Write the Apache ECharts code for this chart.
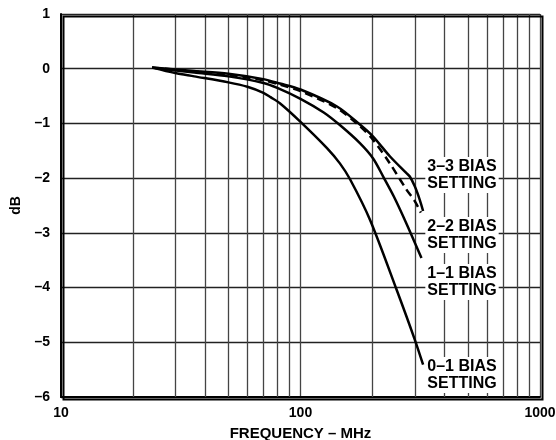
<!DOCTYPE html>
<html><head><meta charset="utf-8">
<script src="https://cdn.jsdelivr.net/npm/echarts@6/dist/echarts.min.js"></script>
<style>html,body{margin:0;padding:0;background:#fff}#c{width:556px;height:440px}</style>
</head><body><div id="c"></div>
<script>
// Data (frequency MHz, dB)
const curve01 = [[24,0.02],[30,-0.08],[36,-0.14],[50,-0.25],[60,-0.33],[70,-0.44],[75,-0.52],[82,-0.63],[100,-0.97],[129,-1.45],[146,-1.73],[161,-2.02],[195,-2.76],[252,-4.04],[300,-4.95],[325,-5.41]];
const curve11 = [[24,0.02],[36,-0.07],[50,-0.14],[70,-0.26],[80,-0.35],[100,-0.55],[125,-0.80],[146,-1.03],[177,-1.36],[201,-1.64],[222,-1.98],[245,-2.33],[275,-2.80],[320,-3.46]];
const curve22 = [[24,0.02],[36,-0.05],[50,-0.11],[70,-0.21],[82,-0.29],[100,-0.41],[142,-0.72],[177,-1.05],[201,-1.30],[236,-1.73],[277,-2.21],[300,-2.42],[318,-2.63]];
const curve33 = [[24,0.02],[36,-0.04],[50,-0.09],[70,-0.19],[82,-0.27],[100,-0.38],[142,-0.69],[177,-1.02],[201,-1.24],[236,-1.60],[277,-1.91],[286,-1.97],[300,-2.15],[315,-2.40],[325,-2.60]];
const minorFreqs = [20,30,40,50,60,70,80,90,200,300,400,500,600,700,800,900];
const yTicks = [-6,-5,-4,-3,-2,-1,0,1];
const labels = [
  {text:'3–3 BIAS\nSETTING', y:175},
  {text:'2–2 BIAS\nSETTING', y:235},
  {text:'1–1 BIAS\nSETTING', y:282},
  {text:'0–1 BIAS\nSETTING', y:375}
];

const font = '"Liberation Sans", Arial, Helvetica, sans-serif';
const chart = echarts.init(document.getElementById('c'), null, {renderer:'canvas'});
const lineS = (name, data, dashed) => ({
  name, type:'line', data, showSymbol:false, smooth:0.3, z:5,
  lineStyle:{color:'#000', width:2.5, type: dashed ? [8,5] : 'solid'}
});
const s33 = lineS('3–3', curve33, false);
s33.markLine = {
  silent:true, symbol:'none', label:{show:false}, z:1,
  lineStyle:{color:'#444', width:1.3, type:'solid'},
  data: minorFreqs.map(v => ({xAxis:v}))
};
chart.setOption({
  animation:false,
  backgroundColor:'#fff',
  grid:{left:61, right:16, top:14, bottom:43, containLabel:false, outerBoundsMode:'none'},
  xAxis:{
    type:'log', logBase:10, min:10, max:1000,
    name:'FREQUENCY – MHz', nameLocation:'middle', nameGap:29,
    nameTextStyle:{fontFamily:font, fontWeight:'bold', fontSize:15, color:'#000'},
    axisLine:{show:true, onZero:false, lineStyle:{color:'#000', width:2}},
    axisTick:{show:false},
    axisLabel:{fontFamily:font, fontWeight:'bold', fontSize:14, color:'#000', margin:9,
      formatter: v => String(Math.round(v))},
    splitLine:{show:true, lineStyle:{color:'#444', width:1.3}}
  },
  yAxis:{
    type:'value', min:-6, max:1, interval:1,
    name:'dB', nameLocation:'middle', nameGap:38,
    nameTextStyle:{fontFamily:font, fontWeight:'bold', fontSize:14, color:'#000'},
    axisLine:{show:true, onZero:false, lineStyle:{color:'#000', width:2}},
    axisTick:{show:false},
    axisLabel:{fontFamily:font, fontWeight:'bold', fontSize:14, color:'#000', margin:11,
      formatter: v => v < 0 ? '–' + Math.abs(v) : String(v)},
    splitLine:{show:true, lineStyle:{color:'#222', width:1.3}}
  },
  series:[
    lineS('0–1', curve01, false),
    lineS('1–1', curve11, false),
    lineS('2–2', curve22, true),
    s33
  ],
  graphic: [
    {type:'rect', left:61, top:14, shape:{width:479, height:383}, style:{fill:'none', stroke:'#000', lineWidth:2}, z:100, silent:true}
  ].concat(labels.map(l => ({
    type:'text', x:462, y:l.y, z:50,
    style:{text:l.text, fontFamily:font, fontWeight:'bold', fontSize:16, lineHeight:17,
      fill:'#000', align:'center', verticalAlign:'middle',
      backgroundColor:'#fff', padding:[1,2,1,2]}
  })))
});
</script></body></html>
